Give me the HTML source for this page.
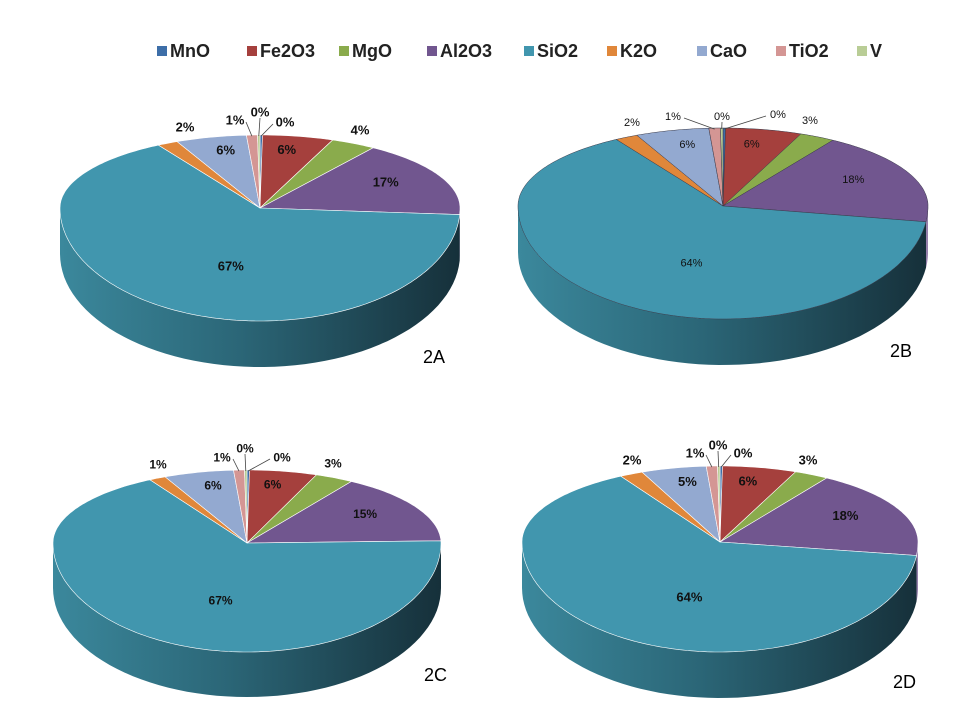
<!DOCTYPE html>
<html><head><meta charset="utf-8"><style>
body{margin:0;background:#fff;}
svg text{font-family:"Liberation Sans",sans-serif;}
</style></head><body>
<svg id="c" width="960" height="720" viewBox="0 0 960 720">
<defs>
<linearGradient id="sideG" x1="0" x2="1" y1="0" y2="0">
<stop offset="0" stop-color="#3b889c"/><stop offset="0.45" stop-color="#2b6677"/><stop offset="1" stop-color="#16303a"/>
</linearGradient>
</defs>
<g id="legend"></g>
<g id="pies"></g>
</svg>
<script>
const categories = ["MnO","Fe2O3","MgO","Al2O3","SiO2","K2O","CaO","TiO2","V"];
const colors = ["#3d6ea8","#a5403d","#8aab4c","#71568f","#4196ae","#e0873a","#93a9d0","#d49694","#b9cd96"];
const valuesA = [0.2,5.8,3.7,16.6,66.5,1.7,5.8,0.9,0.2];
const valuesB = [0.2,6.0,2.8,18.2,64.0,1.8,5.8,0.9,0.2];
const valuesC = [0.2,5.6,3.2,15.4,66.8,1.4,5.8,0.9,0.2];
const valuesD = [0.2,6.0,2.8,17.8,64.3,1.9,5.3,0.9,0.2];
const pieNames = ["2A","2B","2C","2D"];
const NS="http://www.w3.org/2000/svg";
function mk(t,a,p){const e=document.createElementNS(NS,t);for(const k in a)e.setAttribute(k,a[k]);p.appendChild(e);return e;}

const leg=document.getElementById('legend');
const legX=[157,247,339,427,524,607,697,776,857];
categories.forEach((c,i)=>{
  const g=mk('g',{},leg);
  
  
  mk('rect',{x:legX[i],y:46,width:10,height:10,fill:colors[i]},g);
  const t=mk('text',{x:legX[i]+13,y:57,'font-size':18,'font-weight':'bold',fill:'#222'},g);
  t.textContent=c;
});

// layout: apex, horizontal radius, upper/lower vertical radii, depth, fonts, title position
const layouts=[
 {ax:260,ay:208,rx:200,ryT:73,ryB:113,d:46,fs:13,fw:'bold',lx:423,ly:363},
 {ax:723,ay:206,rx:205,ryT:78,ryB:113,d:46,fs:11,fw:'normal',lx:890,ly:357},
 {ax:247,ay:543,rx:194,ryT:73,ryB:109,d:45,fs:12,fw:'bold',lx:424,ly:681},
 {ax:720,ay:542,rx:198,ryT:76,ryB:110,d:46,fs:13,fw:'bold',lx:893,ly:688}
];
const outside=[
 {0:[25,-86],8:[0,-96],7:[-25,-88],5:[-75,-81],2:[100,-78]},
 {0:[55,-92],8:[-1,-90],7:[-50,-90],5:[-91,-84],2:[87,-86]},
 {0:[35,-86],8:[-2,-95],7:[-25,-86],5:[-89,-79],2:[86,-80]},
 {0:[23,-89],8:[-2,-97],7:[-25,-89],5:[-88,-82],2:[88,-82]}
];
const allVals=[valuesA,valuesB,valuesC,valuesD];

allVals.forEach((vals,pi)=>{
  const L=layouts[pi];
  const g=mk('g',{},document.getElementById('pies'));
  
  
  const tot=vals.reduce((a,b)=>a+b,0);
  const P=(a,dy=0)=>{const c=Math.cos(a);return [L.ax+L.rx*Math.sin(a),L.ay-(c>0?L.ryT:L.ryB)*c+dy];};
  let acc=0;const ranges=vals.map(v=>{const s=acc/tot*2*Math.PI;acc+=v;return [s,acc/tot*2*Math.PI];});
  ranges.forEach((r,i)=>{
    const a0=Math.max(r[0],Math.PI/2),a1=Math.min(r[1],3*Math.PI/2);
    if(a1<=a0)return;
    let dpath='';const n=60;
    for(let k=0;k<=n;k++){const a=a0+(a1-a0)*k/n;const p=P(a);dpath+=(k?'L':'M')+p[0].toFixed(1)+','+p[1].toFixed(1);}
    for(let k=n;k>=0;k--){const a=a0+(a1-a0)*k/n;const p=P(a,L.d);dpath+='L'+p[0].toFixed(1)+','+p[1].toFixed(1);}
    const s=mk('path',{d:dpath+'Z',fill:i===4?'url(#sideG)':colors[i],opacity:i===4?1:0.75},g);
    
    
  });
  ranges.forEach((r,i)=>{
    if(r[1]-r[0]<1e-6)return;
    let dpath='M'+L.ax+','+L.ay;const n=Math.max(2,Math.ceil((r[1]-r[0])*50));
    for(let k=0;k<=n;k++){const a=r[0]+(r[1]-r[0])*k/n;const p=P(a);dpath+='L'+p[0].toFixed(1)+','+p[1].toFixed(1);}
    const s=mk('path',{d:dpath+'Z',fill:colors[i],stroke:pi===1?'#3a3a4a':'#fff','stroke-width':pi===1?0.5:0.6},g);
    
    
  });
  ranges.forEach((r,i)=>{
    const m=(r[0]+r[1])/2;let x,y;
    const v=vals[i];const p=P(m);
    if(i===4){x=L.ax+0.28*(p[0]-L.ax);y=L.ay+0.6*(p[1]-L.ay);}
    else if(v>=5){x=L.ax+0.7*(p[0]-L.ax);y=L.ay+0.82*(p[1]-L.ay);}
    else{
      const o=outside[pi][i];x=L.ax+o[0];y=L.ay+o[1];
      if(i!==2&&i!==5){
        const ex=x+(o[0]<-5?11:(o[0]>5?-12:0)), ey=y+(Math.abs(o[0])<5?6:2);
        const ln=mk('path',{d:`M${p[0].toFixed(1)},${(p[1]+1).toFixed(1)}L${ex},${ey}`,stroke:'#444','stroke-width':0.8,fill:'none'},g);
        
        
      }
    }
    const t=mk('text',{x:x,y:y+L.fs*0.36,'font-size':L.fs,'font-weight':L.fw,'text-anchor':'middle',fill:'#111'},g);
    
    
    t.textContent=Math.round(v)+'%';
  });
  const tt=mk('text',{x:L.lx,y:L.ly,'font-size':18,fill:'#000'},g);
  
  
  tt.textContent=pieNames[pi];
});
</script>
</body></html>
